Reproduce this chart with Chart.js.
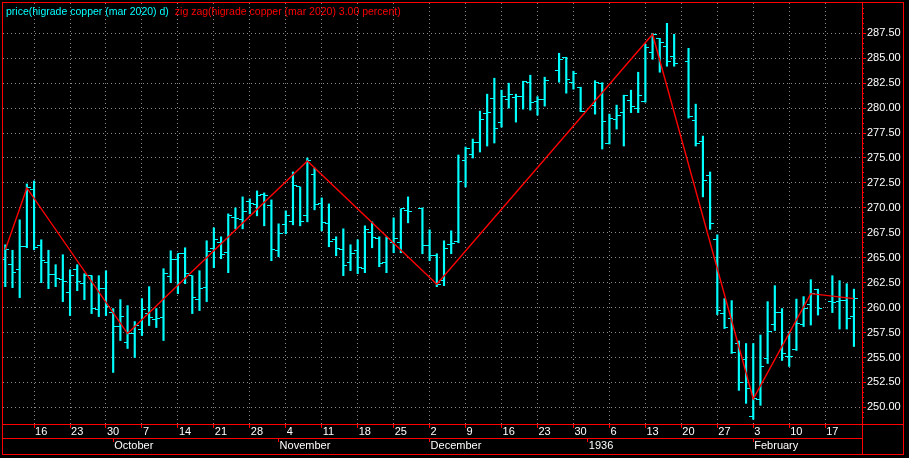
<!DOCTYPE html>
<html>
<head>
<meta charset="utf-8">
<title>higrade copper (mar 2020)</title>
<script src="https://cdn.jsdelivr.net/npm/chart.js@4.4.0/dist/chart.umd.min.js"></script>
<style>
  html, body { margin: 0; padding: 0; background: #000; }
  canvas { display: block; }
</style>
</head>
<body>
<canvas id="myChart" width="909" height="458"></canvas>
<script>
let seriesNames = ['price(higrade copper (mar 2020) d)', 'zig zag(higrade copper (mar 2020) 3.00 percent)'];

// one slot per weekday, first slot is Tue 10 Sep 2019, null = exchange holiday
let opens = [
  264.8, 264.3, 263.8, 266.15, 271.8, 266.2, 264.5, 263.3, 262.8, 261.5,
  263.8, 262.4, 263.2, 259.8, 261.9, 259.5, 258.1, 256.5, 257.4, 257.8,
  259.4, 258.8, 259.0, 263.1, 264.8, 265.4, 263.2, 260.8, 262.0, 265.9,
  266.5, 265.5, 269.0, 268.8, 270.6, 270.3, 271.3, 270.2, 265.7, 268.3,
  268.6, 272.1, 269.2, 273.3, 270.4, 268.4, 266.8, 265.8, 264.5, 265.7,
  263.9, 267.5, 266.9, 264.5, 266.5, 266.5, 269.7, null, 269.9, 266.2,
  265.2, 262.7, 266.3, 266.6, 274.7, 275.4, 276.6, 279.5, 281.0, 278.6,
  280.9, 281.05, 281.2, 282.6, 280.7, 280.9, null, 283.8, 285.1, 282.6,
  282.1, null, 280.3, 282.5, 276.5, 278.9, 279.6, 280.8, 280.0, 280.65,
  285.6, 287.0, 286.2, 285.2, null, 284.7, 278.8, 276.7, 273.2, 266.85,
  259.4, 258.9, 256.4, 254.75, 249.1, 250.75, 254.85, 258.35, 259.5, 255.1,
  255.75, 258.35, 260.35, 261.8, null, 260.6, 260.6, 260.75, 259.1
];
let highs = [
  266.3, 265.75, 268.8, 272.4, 272.7, 266.8, 265.75, 264.3, 265.3, 263.8,
  264.3, 263.4, 263.2, 263.2, 263.7, 259.9, 260.8, 260.2, 258.6, 260.9,
  262.1, 259.9, 263.9, 265.7, 265.4, 266.0, 263.2, 263.7, 266.7, 268.0,
  267.1, 269.4, 270.0, 271.1, 270.9, 271.7, 271.5, 270.8, 268.4, 269.7,
  273.6, 272.1, 275.0, 274.0, 271.0, 270.4, 267.1, 267.9, 266.3, 266.8,
  268.2, 268.6, 267.1, 267.1, 269.0, 269.9, 271.1, null, 270.0, 267.8,
  265.4, 266.7, 267.7, 275.3, 276.1, 276.9, 279.7, 281.4, 283.0, 281.8,
  282.5, 281.4, 282.7, 283.3, 281.15, 283.1, null, 285.5, 285.1, 283.7,
  282.1, null, 282.75, 282.55, 279.4, 280.3, 281.3, 281.8, 283.6, 286.4,
  287.5, 287.0, 288.5, 287.4, null, 286.0, 280.4, 277.2, 273.6, 267.3,
  260.9, 260.7, 256.65, 256.4, 256.4, 257.25, 260.6, 262.2, 259.9, 257.6,
  260.85, 261.1, 262.8, 261.85, null, 263.2, 262.7, 262.4, 261.85
];
let lows = [
  262.1, 262.0, 261.0, 266.0, 265.8, 262.5, 261.9, 262.1, 260.6, 259.2,
  261.7, 260.8, 259.4, 259.1, 259.2, 253.5, 256.7, 255.9, 255.0, 257.2,
  258.2, 258.0, 256.7, 262.5, 261.4, 262.4, 259.4, 259.7, 260.6, 264.0,
  264.9, 263.5, 267.9, 267.9, 269.4, 269.2, 268.2, 264.7, 265.1, 267.4,
  268.3, 268.2, 268.6, 269.8, 267.7, 266.1, 265.2, 263.2, 263.7, 263.4,
  263.5, 266.0, 264.1, 263.5, 265.5, 265.5, 268.5, null, 265.4, 264.7,
  262.1, 262.2, 265.4, 266.5, 272.1, 275.0, 275.6, 276.2, 276.5, 278.1,
  280.0, 278.6, 279.9, 279.8, 279.3, 280.2, null, 282.6, 281.5, 281.9,
  279.65, null, 279.4, 275.9, 276.4, 277.9, 276.2, 279.55, 279.55, 280.6,
  284.9, 283.6, 284.2, 284.2, null, 279.0, 276.2, 271.1, 267.85, 259.3,
  257.9, 255.4, 251.7, 250.4, 248.8, 250.2, 254.4, 257.7, 254.7, 254.1,
  255.7, 258.1, 258.25, 259.25, null, 259.5, 257.85, 257.85, 256.1
];
let closes = [
  265.8, 263.5, 266.1, 272.0, 266.05, 264.7, 263.3, 262.9, 262.6, 263.2,
  262.6, 263.2, 259.9, 261.9, 260.1, 258.1, 259.1, 257.4, 258.2, 259.8,
  259.0, 258.9, 263.4, 264.8, 265.4, 263.4, 261.0, 261.9, 265.65, 266.8,
  265.3, 269.2, 268.9, 269.6, 270.4, 271.2, 271.2, 265.8, 267.4, 269.2,
  272.2, 268.6, 274.7, 270.3, 268.5, 266.6, 265.9, 264.2, 265.4, 264.0,
  267.8, 267.0, 264.4, 266.9, 266.9, 269.9, 269.6, null, 266.2, 265.2,
  262.3, 265.9, 266.4, 272.6, 276.0, 276.6, 278.9, 279.6, 278.0, 281.2,
  281.4, 281.2, 282.65, 280.6, 280.9, 282.8, null, 284.9, 282.9, 283.5,
  279.7, null, 282.6, 278.7, 279.0, 279.3, 281.25, 280.15, 281.3, 286.1,
  287.35, 286.6, 284.7, 284.5, null, 279.2, 276.5, 272.7, 268.45, 259.7,
  258.0, 255.5, 252.5, 251.85, 250.85, 254.1, 257.65, 259.5, 255.4, 255.1,
  258.4, 259.9, 261.45, 259.9, null, 260.5, 260.75, 258.9, 260.9
];

// zig zag turning points (slot, price)
let zigSlots = [0, 3, 17, 42, 60, 90, 104, 112, 118];
let zigPrices = [265.8, 272.0, 257.4, 274.7, 262.35, 287.4, 250.85, 261.4, 260.9];

// axis labels
let daySlots = [4, 9, 14, 19, 24, 29, 34, 39, 44, 49, 54, 59, 64, 69, 74, 79, 84, 89, 94, 99, 104, 109, 114];
let dayLabels = ['16', '23', '30', '7', '14', '21', '28', '4', '11', '18', '25', '2', '9', '16', '23', '30', '6', '13', '20', '27', '3', '10', '17'];
let monthSlots = [15, 38, 59, 81, 104];
let monthLabels = ['October', 'November', 'December', '1936', 'February'];
let priceTicks = [250, 252.5, 255, 257.5, 260, 262.5, 265, 267.5, 270, 272.5, 275, 277.5, 280, 282.5, 285, 287.5];

const CYAN = '#00ffff';
const RED = '#ff0000';
const GRID = '#8c8c8c';
const FAMILY = "'Liberation Sans', Arial, sans-serif";
const FONT = {family: FAMILY, size: 11, lineHeight: 1.2};

let rangeBars = [];
let openPoints = [];
let closePoints = [];
for (let i = 0; i < opens.length; i++) {
  if (opens[i] === null) continue;
  rangeBars.push({x: i, y: [lows[i], highs[i]]});
  openPoints.push({x: i, y: opens[i]});
  closePoints.push({x: i, y: closes[i]});
}
let zigPoints = zigSlots.map((s, k) => ({x: s, y: zigPrices[k]}));

// little open / close ticks used as point styles
function tickMark(side) {
  let c = document.createElement('canvas');
  c.width = 10;
  c.height = 1;
  let g = c.getContext('2d');
  g.fillStyle = CYAN;
  if (side === 'left') {
    g.fillRect(1, 0, 4, 1);
  } else {
    g.fillRect(5, 0, 4, 1);
  }
  return c;
}

function noPadding(scale) {
  scale.paddingTop = 0;
  scale.paddingBottom = 0;
  scale.paddingLeft = 0;
  scale.paddingRight = 0;
}

const frame = {
  id: 'frame',
  beforeDraw(chart) {
    let ctx = chart.ctx;
    ctx.save();
    ctx.fillStyle = '#000';
    ctx.fillRect(0, 0, chart.width, chart.height);
    ctx.restore();
  },
  beforeDatasetsDraw(chart) {
    chart.ctx.imageSmoothingEnabled = false;
  },
  afterDraw(chart) {
    let ctx = chart.ctx;
    let a = chart.chartArea;
    let right = chart.scales.y.right;
    let bottom = chart.scales.x2.bottom;
    ctx.save();
    ctx.strokeStyle = RED;
    ctx.lineWidth = 1;
    ctx.strokeRect(a.left - 0.5, a.top - 0.5, right - a.left + 1, bottom - a.top + 1);
    ctx.beginPath();
    ctx.moveTo(a.right + 0.5, a.top);
    ctx.lineTo(a.right + 0.5, bottom);
    ctx.moveTo(a.left, a.bottom + 0.5);
    ctx.lineTo(right, a.bottom + 0.5);
    ctx.moveTo(a.left, chart.scales.x.bottom + 0.5);
    ctx.lineTo(a.right, chart.scales.x.bottom + 0.5);
    ctx.stroke();
    ctx.restore();
  }
};

const seriesTitles = {
  id: 'seriesTitles',
  afterDatasetsDraw(chart) {
    let ctx = chart.ctx;
    let a = chart.chartArea;
    let colors = [CYAN, RED];
    ctx.save();
    ctx.font = '10.5px ' + FAMILY;
    ctx.textBaseline = 'middle';
    let x = a.left + 3;
    for (let k = 0; k < seriesNames.length; k++) {
      ctx.fillStyle = colors[k];
      ctx.fillText(seriesNames[k], x, a.top + 9.5);
      x += ctx.measureText(seriesNames[k]).width + 6;
    }
    ctx.restore();
  }
};

const config = {
  type: 'bar',
  data: {
    datasets: [{
      type: 'line',
      label: seriesNames[1],
      data: zigPoints,
      borderColor: RED,
      borderWidth: 1.4,
      pointRadius: 0,
      tension: 0,
      order: 0
    },
    {
      type: 'bar',
      label: seriesNames[0],
      data: rangeBars,
      backgroundColor: CYAN,
      borderWidth: 0,
      barThickness: 1.5,
      grouped: false,
      order: 1
    },
    {
      type: 'line',
      data: openPoints,
      showLine: false,
      pointStyle: tickMark('left'),
      pointRadius: 2,
      pointHoverRadius: 2,
      order: 1
    },
    {
      type: 'line',
      data: closePoints,
      showLine: false,
      pointStyle: tickMark('right'),
      pointRadius: 2,
      pointHoverRadius: 2,
      order: 1
    }]
  },
  options: {
    responsive: false,
    animation: false,
    devicePixelRatio: 1,
    events: [],
    layout: {padding: {left: 2, top: 3, right: 6, bottom: 4}},
    plugins: {
      legend: {display: false},
      tooltip: {enabled: false}
    },
    scales: {
      x: {
        type: 'linear',
        position: 'bottom',
        weight: 0,
        min: -0.32,
        max: 119.12,
        offset: false,
        afterBuildTicks: (scale) => { scale.ticks = daySlots.map(v => ({value: v})); },
        afterFit: (scale) => { scale.height = 14; noPadding(scale); },
        ticks: {
          callback: (value, index) => dayLabels[index],
          color: '#ffffff',
          font: FONT,
          align: 'start',
          labelOffset: 1,
          padding: -3,
          autoSkip: false,
          maxRotation: 0
        },
        grid: {color: GRID, offset: false, tickLength: 4, tickColor: RED, drawOnChartArea: true},
        border: {display: false, dash: [1, 3]}
      },
      x2: {
        type: 'linear',
        position: 'bottom',
        weight: 1,
        min: -0.32,
        max: 119.12,
        offset: false,
        afterBuildTicks: (scale) => { scale.ticks = monthSlots.map(v => ({value: v})); },
        afterFit: (scale) => { scale.height = 16; noPadding(scale); },
        ticks: {
          callback: (value, index) => monthLabels[index],
          color: '#ffffff',
          font: FONT,
          align: 'start',
          labelOffset: 1,
          padding: -3,
          autoSkip: false,
          maxRotation: 0
        },
        grid: {offset: false, tickLength: 4, tickColor: RED, drawOnChartArea: false},
        border: {display: false}
      },
      yMinor: {
        type: 'linear',
        position: 'right',
        weight: -1,
        min: 248.33,
        max: 290.54,
        afterBuildTicks: (scale) => {
          scale.ticks = scale.ticks.filter(t => Math.abs(t.value * 2 - Math.round(t.value * 2)) < 1e-6);
        },
        afterFit: (scale) => { scale.width = 0; noPadding(scale); },
        ticks: {display: false, stepSize: 0.5, maxTicksLimit: 200},
        grid: {tickLength: 2, tickColor: RED, drawOnChartArea: false},
        border: {display: false}
      },
      y: {
        type: 'linear',
        position: 'right',
        weight: 0,
        min: 248.33,
        max: 290.54,
        afterBuildTicks: (scale) => { scale.ticks = priceTicks.map(v => ({value: v})); },
        afterFit: (scale) => { scale.width = 41; noPadding(scale); },
        ticks: {
          callback: (value) => Number(value).toFixed(2),
          color: '#ffffff',
          font: FONT,
          padding: 1
        },
        grid: {color: GRID, tickLength: 4, tickColor: RED, drawOnChartArea: true},
        border: {display: false, dash: [1, 3]}
      }
    }
  },
  plugins: [frame, seriesTitles]
};

let canvasChart = document.getElementById('myChart');
new Chart(canvasChart, config);
</script>
</body>
</html>
